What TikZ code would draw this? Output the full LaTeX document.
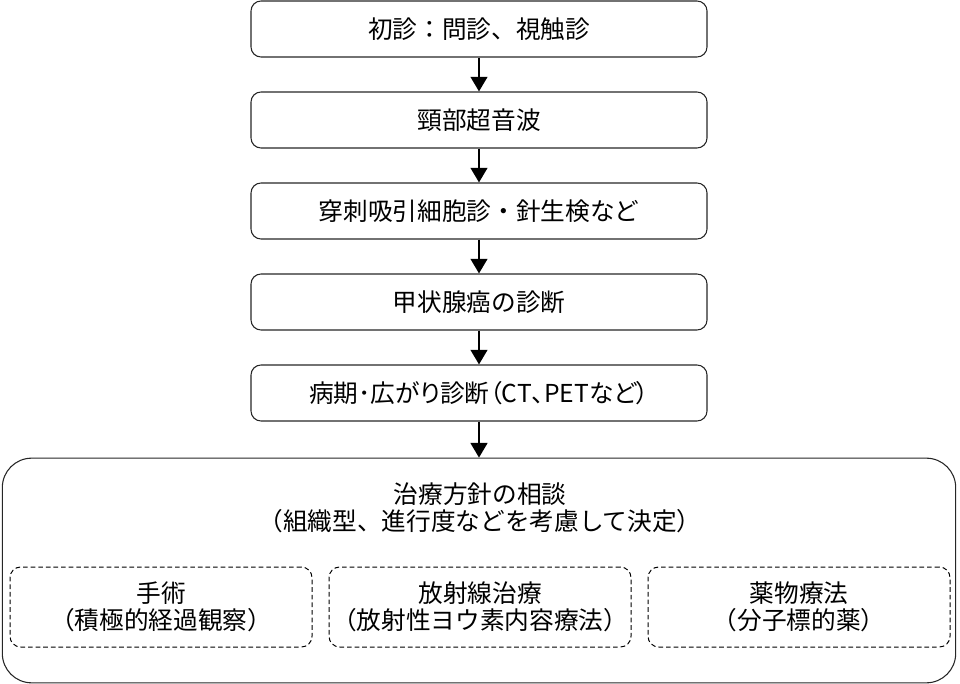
\documentclass[tikz,border=0pt]{standalone}
\usepackage{fontspec}
\setmainfont{Noto Sans CJK JP}
\newfontfamily\propfont[RawFeature=+palt]{Noto Sans CJK JP}
\usetikzlibrary{arrows.meta}
\begin{document}
\begin{tikzpicture}[x=0.75pt,y=-0.75pt,>={Triangle[length=11pt,width=12.5pt]},line join=round,
	font=\fontsize{18.5}{20.25}\selectfont,
	stepbox/.style={draw=black!85,line width=0.8pt,rounded corners=7.5pt,minimum width=342pt,minimum height=42pt,inner sep=0pt},
	planbox/.style={draw=black!85,line width=0.8pt,rounded corners=22pt,minimum width=715pt,minimum height=168.5pt,inner sep=0pt},
	optbox/.style={draw=black,line width=0.75pt,dash pattern=on 3.5pt off 2.2pt,rounded corners=8pt,minimum width=226.5pt,minimum height=60pt,inner sep=0pt,align=center}]
	\useasboundingbox (0,0) rectangle (960,684);
	\foreach \i/\y/\t in {1/29/{初診：問診、視触診},2/120/{頸部超音波},3/211/{穿刺吸引細胞診・針生検など},4/302/{甲状腺癌の診断},5/393/{\propfont 病期･広がり診断（CT、PETなど）}}
		\node[stepbox] (s\i) at (479,\y) {\t};
	\node[planbox] (plan) at (479,570.5) {};
	\node[align=center] (title) at (480,508) {治療方針の相談\\（組織型、進行度などを考慮して決定）};
	\node[optbox] (ope) at (161,607) {手術\\（積極的経過観察）};
	\node[optbox] (rad) at (480,607) {放射線治療\\（放射性ヨウ素内容療法）};
	\node[optbox] (drug) at (799,607) {薬物療法\\（分子標的薬）};
	\foreach \a/\b in {s1/s2,s2/s3,s3/s4,s4/s5,s5/plan}
		\draw[->,line width=1.8pt] (\a.south) -- (\b.north);
\end{tikzpicture}
\end{document}
